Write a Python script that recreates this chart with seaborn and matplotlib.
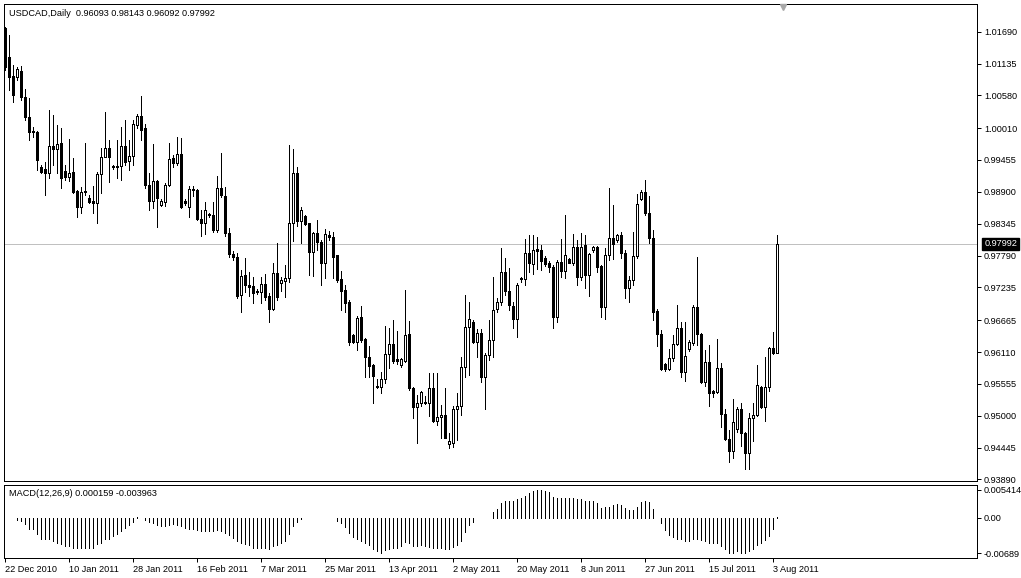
import numpy as np
import matplotlib
matplotlib.use('Agg')
import matplotlib.pyplot as plt
import matplotlib.transforms as mtransforms
import seaborn as sns

sns.set_theme(style='white')
plt.rcParams['font.family'] = ['Liberation Sans', 'DejaVu Sans']

# datos (USDCAD diario)
symbol = 'USDCAD,Daily'
macd_title = 'MACD(12,26,9) 0.000159 -0.003963'

opens = [1.0175, 1.0125, 1.0092, 1.0090, 1.0101, 1.0055, 1.0020, 0.9996, 0.9994, 0.9933,
         0.9930, 0.9923, 0.9970, 0.9965, 0.9975, 0.9926, 0.9916, 0.9925, 0.9891, 0.9864,
         0.9891, 0.9879, 0.9874, 0.9871, 0.9921, 0.9951, 0.9966, 0.9935, 0.9935, 0.9935,
         0.9970, 0.9944, 0.9953, 1.0006, 1.0022, 1.0001, 0.9902, 0.9874, 0.9909, 0.9867,
         0.9872, 0.9902, 0.9949, 0.9940, 0.9956, 0.9874, 0.9864, 0.9895, 0.9893, 0.9843,
         0.9836, 0.9851, 0.9849, 0.9824, 0.9897, 0.9883, 0.9818, 0.9782, 0.9777, 0.9710,
         0.9745, 0.9728, 0.9726, 0.9716, 0.9716, 0.9729, 0.9709, 0.9686, 0.9749, 0.9731,
         0.9735, 0.9740, 0.9836, 0.9923, 0.9839, 0.9848, 0.9836, 0.9785, 0.9818, 0.9803,
         0.9766, 0.9815, 0.9811, 0.9780, 0.9738, 0.9719, 0.9698, 0.9641, 0.9628, 0.9672,
         0.9634, 0.9602, 0.9588, 0.9550, 0.9550, 0.9564, 0.9608, 0.9625, 0.9599, 0.9588,
         0.9595, 0.9642, 0.9548, 0.9515, 0.9522, 0.9524, 0.9522, 0.9548, 0.9491, 0.9498,
         0.9502, 0.9451, 0.9452, 0.9512, 0.9517, 0.9585, 0.9655, 0.9663, 0.9628, 0.9644,
         0.9568, 0.9606, 0.9632, 0.9686, 0.9698, 0.9750, 0.9717, 0.9691, 0.9669, 0.9738,
         0.9738, 0.9784, 0.9764, 0.9790, 0.9789, 0.9775, 0.9766, 0.9759, 0.9672, 0.9768,
         0.9752, 0.9773, 0.9766, 0.9794, 0.9742, 0.9797, 0.9745, 0.9789, 0.9794, 0.9761,
         0.9689, 0.9780, 0.9810, 0.9806, 0.9815, 0.9784, 0.9722, 0.9736, 0.9778, 0.9877,
         0.9890, 0.9853, 0.9810, 0.9683, 0.9642, 0.9590, 0.9581, 0.9601, 0.9625, 0.9653,
         0.9576, 0.9616, 0.9627, 0.9689, 0.9642, 0.9559, 0.9594, 0.9543, 0.9541, 0.9583,
         0.9503, 0.9459, 0.9439, 0.9477, 0.9512, 0.9470, 0.9435, 0.9496, 0.9501, 0.9550,
         0.9515, 0.9550, 0.9618, 0.96093]

highs = [1.0177, 1.0163, 1.0111, 1.0107, 1.0109, 1.0069, 1.0054, 1.0003, 0.9996, 0.9937,
         0.9942, 1.0033, 1.0024, 1.0006, 1.0001, 0.9937, 0.9982, 0.9949, 0.9893, 0.9898,
         0.9975, 0.9885, 0.9900, 0.9925, 0.9966, 1.0029, 0.9980, 0.9937, 0.9980, 1.0003,
         1.0015, 0.9980, 1.0015, 1.0026, 1.0057, 1.0008, 0.9923, 0.9973, 0.9911, 0.9877,
         0.9906, 0.9975, 0.9954, 0.9986, 0.9984, 0.9877, 0.9900, 0.9900, 0.9895, 0.9858,
         0.9872, 0.9853, 0.9872, 0.9918, 0.9958, 0.9898, 0.9827, 0.9787, 0.9784, 0.9754,
         0.9775, 0.9750, 0.9742, 0.9721, 0.9742, 0.9747, 0.9714, 0.9766, 0.9801, 0.9742,
         0.9763, 0.9972, 0.9965, 0.9933, 0.9864, 0.9849, 0.9836, 0.9820, 0.9841, 0.9806,
         0.9825, 0.9822, 0.9820, 0.9780, 0.9752, 0.9728, 0.9702, 0.9642, 0.9674, 0.9691,
         0.9635, 0.9622, 0.9590, 0.9564, 0.9576, 0.9656, 0.9653, 0.9667, 0.9648, 0.9601,
         0.9719, 0.9665, 0.9550, 0.9536, 0.9543, 0.9534, 0.9574, 0.9574, 0.9574, 0.9519,
         0.9548, 0.9470, 0.9517, 0.9540, 0.9602, 0.9710, 0.9698, 0.9667, 0.9651, 0.9651,
         0.9609, 0.9667, 0.9742, 0.9705, 0.9792, 0.9775, 0.9757, 0.9698, 0.9731, 0.9742,
         0.9808, 0.9815, 0.9815, 0.9811, 0.9797, 0.9778, 0.9770, 0.9763, 0.9771, 0.9808,
         0.9849, 0.9775, 0.9817, 0.9806, 0.9818, 0.9815, 0.9784, 0.9796, 0.9796, 0.9763,
         0.9792, 0.9897, 0.9867, 0.9817, 0.9820, 0.9789, 0.9743, 0.9820, 0.9886, 0.9893,
         0.9911, 0.9883, 0.9824, 0.9686, 0.9649, 0.9592, 0.9616, 0.9641, 0.9693, 0.9663,
         0.9663, 0.9632, 0.9693, 0.9777, 0.9644, 0.9615, 0.9623, 0.9545, 0.9634, 0.9592,
         0.9512, 0.9475, 0.9529, 0.9515, 0.9522, 0.9472, 0.9505, 0.9522, 0.9588, 0.9552,
         0.9602, 0.9620, 0.9646, 0.98143]

lows = [1.0102, 1.0067, 1.0047, 1.0085, 1.0050, 1.0015, 0.9980, 0.9986, 0.9928, 0.9923,
        0.9885, 0.9914, 0.9937, 0.9923, 0.9897, 0.9911, 0.9909, 0.9888, 0.9846, 0.9853,
        0.9885, 0.9871, 0.9853, 0.9836, 0.9888, 0.9951, 0.9907, 0.9930, 0.9914, 0.9911,
        0.9937, 0.9928, 0.9937, 1.0001, 0.9980, 0.9897, 0.9858, 0.9862, 0.9829, 0.9866,
        0.9866, 0.9900, 0.9933, 0.9937, 0.9862, 0.9867, 0.9846, 0.9883, 0.9841, 0.9813,
        0.9817, 0.9846, 0.9820, 0.9820, 0.9881, 0.9813, 0.9777, 0.9771, 0.9705, 0.9681,
        0.9716, 0.9709, 0.9696, 0.9712, 0.9696, 0.9702, 0.9663, 0.9684, 0.9702, 0.9717,
        0.9707, 0.9733, 0.9804, 0.9831, 0.9801, 0.9832, 0.9745, 0.9743, 0.9789, 0.9728,
        0.9740, 0.9806, 0.9740, 0.9733, 0.9684, 0.9681, 0.9623, 0.9627, 0.9615, 0.9628,
        0.9568, 0.9568, 0.9522, 0.9548, 0.9540, 0.9557, 0.9583, 0.9592, 0.9590, 0.9585,
        0.9594, 0.9545, 0.9496, 0.9452, 0.9517, 0.9520, 0.9500, 0.9489, 0.9484, 0.9461,
        0.9461, 0.9444, 0.9446, 0.9458, 0.9502, 0.9568, 0.9571, 0.9627, 0.9602, 0.9559,
        0.9512, 0.9597, 0.9602, 0.9681, 0.9693, 0.9710, 0.9684, 0.9653, 0.9637, 0.9733,
        0.9728, 0.9750, 0.9747, 0.9756, 0.9754, 0.9761, 0.9750, 0.9653, 0.9663, 0.9742,
        0.9740, 0.9766, 0.9763, 0.9728, 0.9736, 0.9722, 0.9709, 0.9785, 0.9750, 0.9672,
        0.9669, 0.9771, 0.9773, 0.9803, 0.9775, 0.9705, 0.9698, 0.9728, 0.9775, 0.9876,
        0.9849, 0.9801, 0.9667, 0.9622, 0.9580, 0.9578, 0.9580, 0.9595, 0.9623, 0.9568,
        0.9560, 0.9613, 0.9623, 0.9623, 0.9557, 0.9552, 0.9517, 0.9533, 0.9540, 0.9480,
        0.9458, 0.9419, 0.9426, 0.9472, 0.9447, 0.9407, 0.9408, 0.9456, 0.9500, 0.9514,
        0.9490, 0.9543, 0.9608, 0.96092]

closes = [1.0107, 1.0090, 1.0059, 1.0104, 1.0055, 1.0020, 0.9994, 0.9994, 0.9946, 0.9925,
          0.9923, 0.9970, 0.9965, 0.9973, 0.9914, 0.9916, 0.9923, 0.9890, 0.9864, 0.9890,
          0.9890, 0.9872, 0.9871, 0.9921, 0.9951, 0.9966, 0.9951, 0.9933, 0.9933, 0.9970,
          0.9942, 0.9953, 1.0008, 1.0022, 0.9998, 0.9902, 0.9874, 0.9909, 0.9879, 0.9874,
          0.9902, 0.9947, 0.9940, 0.9956, 0.9864, 0.9871, 0.9895, 0.9893, 0.9843, 0.9836,
          0.9858, 0.9849, 0.9824, 0.9897, 0.9885, 0.9818, 0.9782, 0.9777, 0.9709, 0.9743,
          0.9728, 0.9724, 0.9714, 0.9717, 0.9729, 0.9707, 0.9686, 0.9749, 0.9707, 0.9736,
          0.9740, 0.9836, 0.9923, 0.9839, 0.9858, 0.9834, 0.9785, 0.9818, 0.9803, 0.9766,
          0.9817, 0.9811, 0.9777, 0.9736, 0.9717, 0.9696, 0.9628, 0.9628, 0.9670, 0.9632,
          0.9602, 0.9587, 0.9569, 0.9552, 0.9564, 0.9608, 0.9625, 0.9595, 0.9595, 0.9599,
          0.9641, 0.9548, 0.9515, 0.9522, 0.9541, 0.9522, 0.9548, 0.9491, 0.9498, 0.9502,
          0.9461, 0.9456, 0.9512, 0.9517, 0.9585, 0.9655, 0.9669, 0.9628, 0.9644, 0.9568,
          0.9606, 0.9632, 0.9684, 0.9698, 0.9750, 0.9717, 0.9693, 0.9669, 0.9728, 0.9740,
          0.9784, 0.9766, 0.9789, 0.9787, 0.9770, 0.9764, 0.9759, 0.9672, 0.9768, 0.9752,
          0.9780, 0.9766, 0.9794, 0.9742, 0.9794, 0.9745, 0.9782, 0.9794, 0.9759, 0.9689,
          0.9780, 0.9810, 0.9799, 0.9815, 0.9784, 0.9722, 0.9736, 0.9778, 0.9869, 0.9890,
          0.9853, 0.9810, 0.9681, 0.9642, 0.9581, 0.9581, 0.9601, 0.9625, 0.9653, 0.9576,
          0.9604, 0.9628, 0.9689, 0.9642, 0.9559, 0.9594, 0.9540, 0.9540, 0.9583, 0.9503,
          0.9459, 0.9439, 0.9489, 0.9512, 0.9470, 0.9435, 0.9496, 0.9501, 0.9554, 0.9515,
          0.9550, 0.9618, 0.9609, 0.97992]

macd = [-0.00005, -0.00010, -0.00013, -0.00045, -0.00065, -0.00130, -0.00214, -0.00227, -0.00324, -0.00421,
        -0.00421, -0.00421, -0.00454, -0.00486, -0.00518, -0.00551, -0.00551, -0.00583, -0.00583, -0.00583,
        -0.00583, -0.00583, -0.00583, -0.00518, -0.00486, -0.00421, -0.00408, -0.00356, -0.00324, -0.00259,
        -0.00194, -0.00149, -0.00084, 0.00010, 0.0, -0.00045, -0.00084, -0.00110, -0.00149, -0.00162,
        -0.00162, -0.00149, -0.00130, -0.00149, -0.00162, -0.00194, -0.00214, -0.00227, -0.00240, -0.00259,
        -0.00259, -0.00259, -0.00259, -0.00240, -0.00259, -0.00292, -0.00343, -0.00389, -0.00454, -0.00486,
        -0.00518, -0.00538, -0.00583, -0.00583, -0.00583, -0.00583, -0.00603, -0.00551, -0.00538, -0.00499,
        -0.00454, -0.00324, -0.00162, -0.00084, -0.00032, 0.0, -0.00005, 0.0, 0.0, -0.00005,
        -0.00005, 0.0, -0.00005, -0.00065, -0.00110, -0.00175, -0.00292, -0.00369, -0.00408, -0.00454,
        -0.00499, -0.00538, -0.00603, -0.00648, -0.00680, -0.00629, -0.00603, -0.00583, -0.00583, -0.00551,
        -0.00473, -0.00499, -0.00551, -0.00551, -0.00538, -0.00551, -0.00564, -0.00583, -0.00583, -0.00583,
        -0.00603, -0.00616, -0.00564, -0.00538, -0.00454, -0.00279, -0.00149, -0.00084, -0.00013, -0.00010,
        -0.00010, -0.00010, 0.00110, 0.00162, 0.00279, 0.00324, 0.00324, 0.00324, 0.00356, 0.00376,
        0.00421, 0.00473, 0.00518, 0.00538, 0.00538, 0.00518, 0.00499, 0.00408, 0.00389, 0.00389,
        0.00389, 0.00389, 0.00389, 0.00369, 0.00356, 0.00324, 0.00324, 0.00324, 0.00292, 0.00194,
        0.00214, 0.00214, 0.00240, 0.00259, 0.00240, 0.00194, 0.00143, 0.00149, 0.00214, 0.00305,
        0.00324, 0.00305, 0.00162, -0.00005, -0.00110, -0.00240, -0.00343, -0.00369, -0.00408, -0.00421,
        -0.00454, -0.00454, -0.00421, -0.00408, -0.00434, -0.00454, -0.00486, -0.00499, -0.00499, -0.00551,
        -0.00603, -0.00680, -0.00680, -0.00648, -0.00693, -0.00689, -0.00648, -0.00616, -0.00538, -0.00499,
        -0.00434, -0.00356, -0.00227, 0.000159]

date_labels = ['22 Dec 2010', '10 Jan 2011', '28 Jan 2011', '16 Feb 2011', '7 Mar 2011',
               '25 Mar 2011', '13 Apr 2011', '2 May 2011', '20 May 2011', '8 Jun 2011',
               '27 Jun 2011', '15 Jul 2011', '3 Aug 2011']
price_ticks = [1.01690, 1.01135, 1.00580, 1.00010, 0.99455, 0.98900, 0.98345, 0.97790,
               0.97235, 0.96665, 0.96110, 0.95555, 0.95000, 0.94445, 0.93890]
macd_ticks = [0.005414, 0.0, -0.00689]
macd_tick_labels = ['0.005414', '0.00', '-0.00689']

o = np.array(opens)
h = np.array(highs)
l = np.array(lows)
c = np.array(closes)
x = np.arange(len(o))
date_pos = [16 * k for k in range(len(date_labels))]

W, H = 1021, 578
fig = plt.figure(figsize=(W / 100, H / 100), dpi=100)
fig.patch.set_facecolor('white')
ax = fig.add_axes([4 / W, 1 - 481 / H, 973 / W, 477 / H])
ax2 = fig.add_axes([4 / W, 1 - 558 / H, 973 / W, 73 / H])

fs = 6.6
px = 0.72  # 1 pixel en puntos

# velas
ax.axhline(c[-1], color='#c0c0c0', lw=px, zorder=0)
ax.vlines(x, l, h, color='black', lw=px, antialiased=False, zorder=2)
alcista = c >= o
ax.bar(x, np.abs(c - o), bottom=np.minimum(o, c), width=0.5,
       color=np.where(alcista, 'white', 'black'), edgecolor='black',
       linewidth=px, antialiased=False, zorder=3)

ax.set_xlim(-0.25, 243)
ax.set_ylim(0.93863, 1.02172)
ax.set_xticks([])
ax.set_yticks(price_ticks)
ax.set_yticklabels(['%.5f' % v for v in price_ticks])
ax.tick_params(axis='y', left=False, right=True, labelleft=False, labelright=True,
               direction='out', length=3, width=px, pad=2, labelsize=fs, colors='black')

trans = mtransforms.blended_transform_factory(ax.transAxes, ax.transData)
ax.text(1.0075, c[-1], '%.5f' % c[-1], transform=trans, fontsize=fs, color='white',
        va='center', ha='left', zorder=5,
        bbox=dict(boxstyle='square,pad=0.2', fc='black', ec='black'))
trans_top = mtransforms.blended_transform_factory(ax.transData, ax.transAxes)
ax.plot([194.5], [0.993], marker='v', ms=5, color='#a8a8a8', transform=trans_top,
        clip_on=False, zorder=6)

# MACD
ax2.vlines(x, 0, macd, color='black', lw=px, antialiased=False)
ax2.set_xlim(-0.25, 243)
ax2.set_ylim(-0.007834, 0.006357)
ax2.set_yticks(macd_ticks)
ax2.set_yticklabels(macd_tick_labels)
ax2.tick_params(axis='y', left=False, right=True, labelleft=False, labelright=True,
                direction='out', length=3, width=px, pad=2, labelsize=fs, colors='black')
ax2.set_xticks(date_pos)
ax2.set_xticklabels(date_labels, ha='left')
ax2.tick_params(axis='x', bottom=True, direction='out', length=3, width=px, pad=2,
                labelsize=fs, colors='black')

for a in (ax, ax2):
    for s in a.spines.values():
        s.set_color('black')
        s.set_linewidth(px)
    a.set_facecolor('white')

header = '%s  %.5f %.5f %.5f %.5f' % (symbol, o[-1], h[-1], l[-1], c[-1])
fig.text(9 / W, 1 - 13 / H, header, fontsize=fs, va='center', ha='left', color='black')
fig.text(9 / W, 1 - 494 / H, macd_title, fontsize=fs, va='center', ha='left', color='black')

fig.savefig('out.png', dpi=100)
